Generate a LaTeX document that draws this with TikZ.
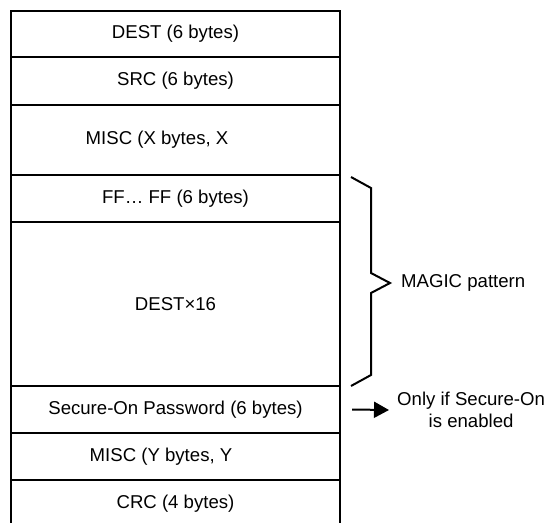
\documentclass[tikz,border=0pt]{standalone}
\usepackage{fontspec}
\setmainfont{Liberation Sans}
\usetikzlibrary{arrows.meta}
\begin{document}
\begin{tikzpicture}[x=1pt,y=-1pt,
  every node/.style={font=\fontsize{18.6}{22}\selectfont},
  field/.style={draw, line width=2.2pt, minimum width=329pt, inner sep=0pt, anchor=center},
  brace/.style={draw, line width=2pt, line join=miter},
  pointer/.style={line width=2pt, -{Triangle[length=15pt,width=16pt]}}]
  \useasboundingbox (0,0) rectangle (550,523);
  % frame fields, top to bottom
  \node[field, minimum height=46pt]  (dest)   at (175.5,34)    {DEST (6 bytes)};
  \node[field, minimum height=48pt]  (src)    at (175.5,81)    {SRC (6 bytes)};
  \node[field, minimum height=70pt]  (miscx)  at (175.5,140)   {MISC (X bytes, X\hspace*{37pt}};
  \node[field, minimum height=47pt]  (ff)     at (175.5,198.5) {FF\ldots\ FF (6 bytes)};
  \node[field, minimum height=164pt] (dests)  at (175.5,304)   {DEST\texttimes16};
  \node[field, minimum height=47pt]  (secure) at (175.5,409.5) {Secure-On Password (6 bytes)};
  \node[field, minimum height=47pt]  (miscy)  at (175.5,456.5) {MISC (Y bytes, Y\hspace*{29pt}};
  \node[field, minimum height=47pt]  (crc)    at (175.5,503.5) {CRC (4 bytes)};
  % brace over the magic pattern
  \coordinate (btop) at (351,177);
  \coordinate (tip)  at (390,283);
  \coordinate (bbot) at (351,386);
  \draw[brace] (btop) -- (371,188) -- (371,273) -- (tip)
    -- (371,293) -- (371,375) -- (bbot);
  \node[anchor=west, inner sep=0pt] (magic) at ([xshift=11pt]tip) {MAGIC pattern};
  % note on the optional password
  \node[anchor=west, inner sep=0pt, align=center] (note) at (397,410) {Only if Secure-On\\is enabled};
  \draw[pointer] ([xshift=11pt]secure.east) -- ([xshift=-8pt]note.west);
\end{tikzpicture}
\end{document}
